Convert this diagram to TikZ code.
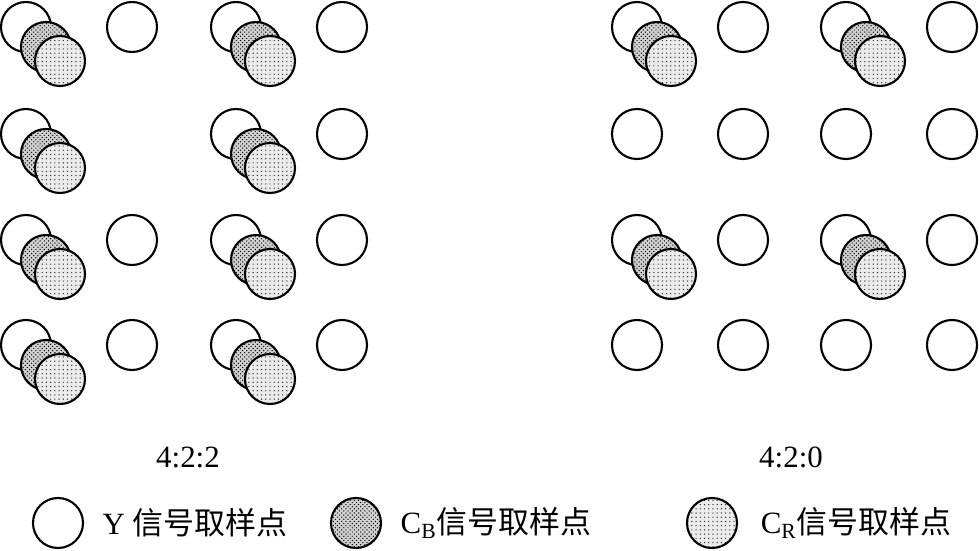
\documentclass[tikz,border=0pt]{standalone}
\usepackage{fontspec}
\setmainfont{Liberation Serif}
\newfontfamily\cjk{Noto Sans CJK SC}
\usepackage{tikz}
\usetikzlibrary{patterns, positioning}

\begin{document}
\begin{tikzpicture}[x=0.025cm, y=-0.025cm,
  ypt/.style={draw, circle, line width=1.5pt, minimum size=1.25cm, inner sep=0pt, fill=white},
  cbpt/.style={ypt, preaction={fill=black!18}, pattern=crosshatch dots, pattern color=black},
  crpt/.style={ypt, preaction={fill=black!8}, pattern=dots, pattern color=black!80},
  lbl/.style={font=\fontsize{22}{25}\selectfont, inner sep=0pt}
]
\useasboundingbox (0,0) rectangle (979,551);

% 4:2:2 (left): Y samples, one missing in row 2
\foreach \r/\yy in {1/27, 2/134, 3/240, 4/345}
  \foreach \c/\xx in {1/26, 2/132, 3/236, 4/342}
    {\ifnum\r\c=22 \else \node[ypt] (la-y\r\c) at (\xx,\yy) {}; \fi}
% 4:2:2 chroma on columns 1 and 3
\foreach \r/\yy in {1/27, 2/134, 3/240, 4/345}
  \foreach \c/\xx in {1/26, 3/236}
  {
    \node[cbpt] (la-cb\r\c) at (\xx+20,\yy+20) {};
    \node[crpt] (la-cr\r\c) at (\xx+34,\yy+34) {};
  }

% 4:2:0 (right): Y samples
\foreach \r/\yy in {1/27, 2/134, 3/240, 4/345}
  \foreach \c/\xx in {1/637, 2/743, 3/846, 4/952}
    \node[ypt] (rb-y\r\c) at (\xx,\yy) {};
% 4:2:0 chroma on rows 1, 3 and columns 1, 3
\foreach \r/\yy in {1/27, 3/240}
  \foreach \c/\xx in {1/637, 3/846}
  {
    \node[cbpt] (rb-cb\r\c) at (\xx+20,\yy+20) {};
    \node[crpt] (rb-cr\r\c) at (\xx+34,\yy+34) {};
  }

% Titles
\node[lbl] (t422) at (188,457) {4:2:2};
\node[lbl] (t420) at (791,457) {4:2:0};

% Legend
\node[ypt] (leg-y) at (58,523) {};
\node[lbl, right=13pt of leg-y.east, anchor=west] (leg-ytxt) {Y {\cjk 信号取样点}};
\node[cbpt] (leg-cb) at (356,523) {};
\node[lbl, right=13pt of leg-cb.east, anchor=west] (leg-cbtxt) {C\textsubscript{B}{\cjk 信号取样点}};
\node[crpt] (leg-cr) at (712,523) {};
\node[lbl, right=16pt of leg-cr.east, anchor=west] (leg-crtxt) {C\textsubscript{R}{\cjk 信号取样点}};

\end{tikzpicture}
\end{document}
